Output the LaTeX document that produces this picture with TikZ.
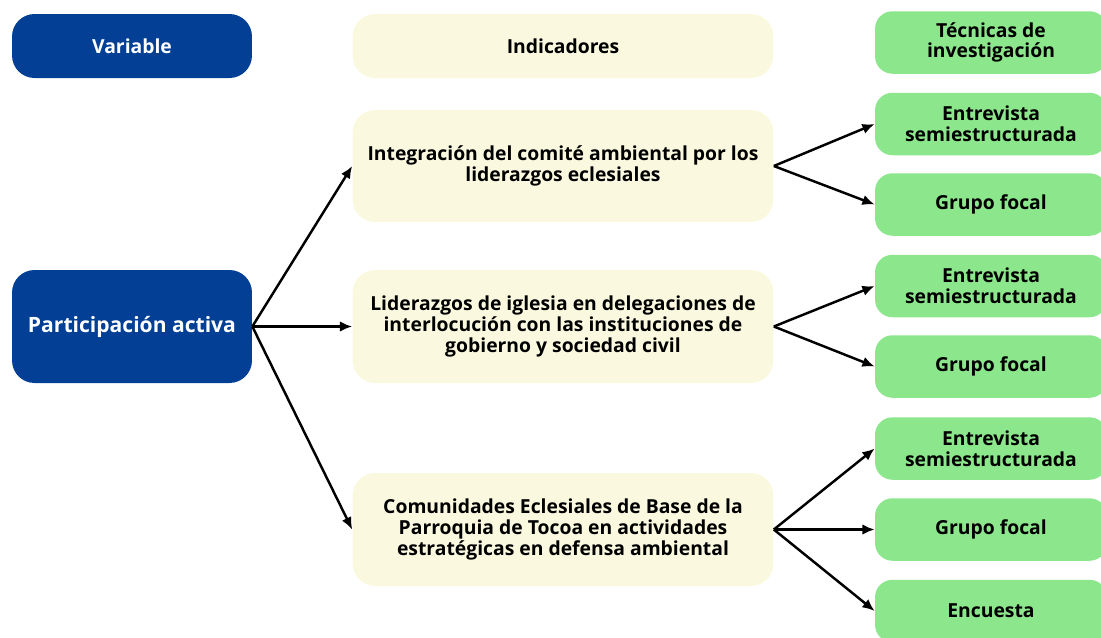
\documentclass[tikz,border=0pt]{standalone}
\usepackage{fontspec}
\setmainfont{Open Sans}
\usetikzlibrary{arrows.meta}
\definecolor{varblue}{HTML}{023F95}
\definecolor{indyellow}{HTML}{FAF9DF}
\definecolor{tecgreen}{HTML}{8CE68B}
\begin{document}
\begin{tikzpicture}[x=0.02cm, y=-0.02cm,
	varbox/.style={fill=varblue, text=white, rounded corners=0.45cm, minimum width=4.8cm, font=\bfseries\fontsize{11}{12}\selectfont, align=center, inner sep=0pt},
	indbox/.style={fill=indyellow, rounded corners=0.45cm, minimum width=8.42cm, font=\bfseries\fontsize{11}{12}\selectfont, align=center, inner sep=0pt},
	tecbox/.style={fill=tecgreen, rounded corners=0.35cm, minimum width=4.64cm, minimum height=1.25cm, font=\bfseries\fontsize{11}{11.8}\selectfont, align=center, inner sep=0pt},
	link/.style={-{Latex[length=7pt,width=6pt]}, line width=1.4pt}]
				\clip (0,0) rectangle (1101,637);

				% Headers
				\node[varbox, minimum height=1.28cm] (var) at (132,46) {Variable};
				\node[indbox, minimum height=1.28cm] (ind) at (563,46) {Indicadores};
				\node[tecbox] (tec) at (991,42.5) {Técnicas de\\investigación};

				% Variable
				\node[varbox, minimum height=2.26cm, font=\bfseries\fontsize{12}{14}\selectfont] (pa) at (132,326.5) {Participación activa};

				% Indicators
				\node[indbox, minimum height=2.24cm] (i1) at (563,166) {Integración del comité ambiental por los\\liderazgos eclesiales};
				\node[indbox, minimum height=2.26cm] (i2) at (563,326.5) {Liderazgos de iglesia en delegaciones de\\interlocución con las instituciones de\\gobierno y sociedad civil};
				\node[indbox, minimum height=2.26cm] (i3) at (563,529.5) {Comunidades Eclesiales de Base de la\\Parroquia de Tocoa en actividades\\estratégicas en defensa ambiental};

				% Techniques
				\node[tecbox] (t11) at (991,124) {Entrevista\\semiestructurada};
				\node[tecbox] (t12) at (991,204.5) {Grupo focal};
				\node[tecbox] (t21) at (991,286) {Entrevista\\semiestructurada};
				\node[tecbox] (t22) at (991,366.5) {Grupo focal};
				\node[tecbox] (t31) at (991,448.5) {Entrevista\\semiestructurada};
				\node[tecbox] (t32) at (991,529.5) {Grupo focal};
				\node[tecbox] (t33) at (991,611) {Encuesta};

				% Connectors
				\draw[link] (pa.east) -- (i1.west);
				\draw[link] (pa.east) -- (i2.west);
				\draw[link] (pa.east) -- (i3.west);
				\draw[link] (i1.east) -- (t11.west);
				\draw[link] (i1.east) -- (t12.west);
				\draw[link] (i2.east) -- (t21.west);
				\draw[link] (i2.east) -- (t22.west);
				\draw[link] (i3.east) -- (t31.west);
				\draw[link] (i3.east) -- (t32.west);
				\draw[link] (i3.east) -- (t33.west);
			\end{tikzpicture}
\end{document}
